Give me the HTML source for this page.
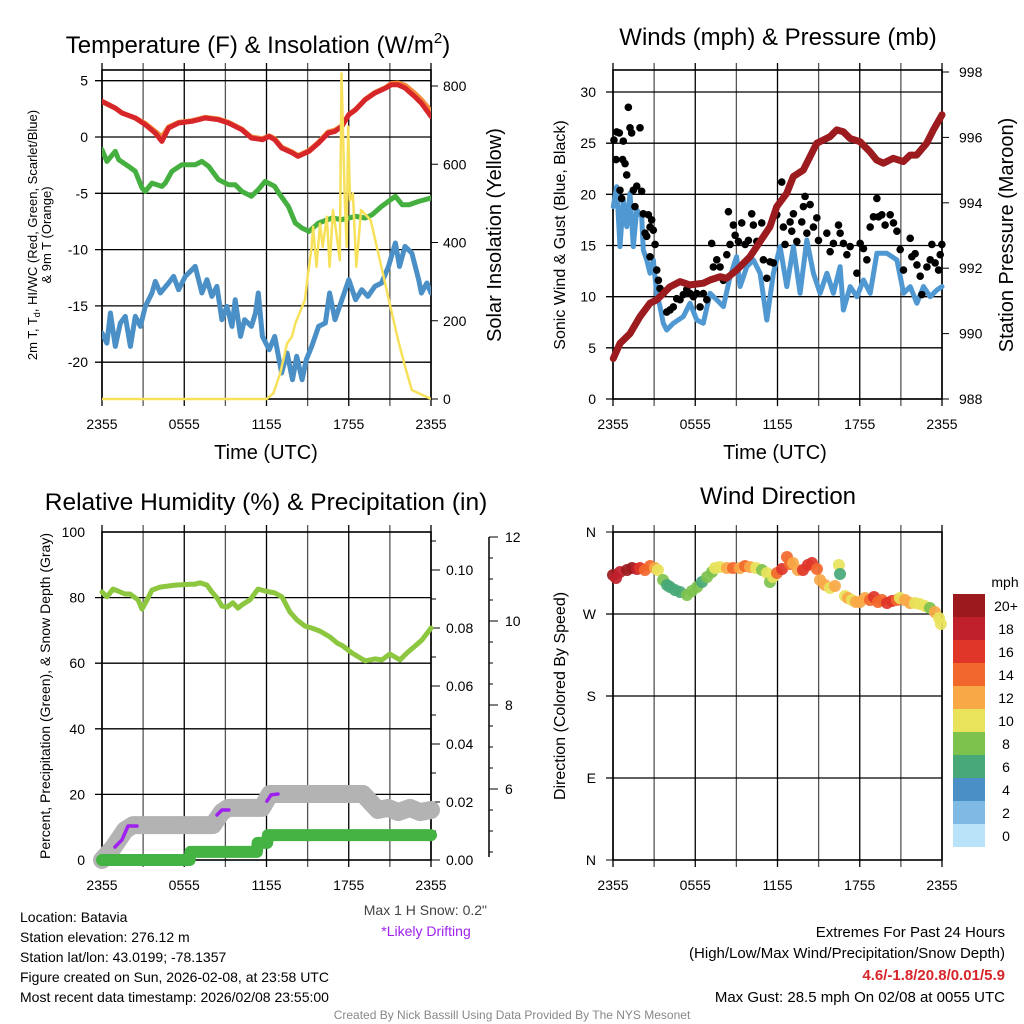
<!DOCTYPE html>
<html><head><meta charset="utf-8"><style>
html,body{margin:0;padding:0;background:#fff;}
svg{display:block;font-family:"Liberation Sans",Arial,sans-serif;}
</style></head><body>
<svg id="c" width="1024" height="1024" viewBox="0 0 1024 1024" xmlns="http://www.w3.org/2000/svg"></svg>
<script>
// ===== Panel 1 data =====
const tHours=[0,0.97,1.46,2.43,3.16,3.89,4.37,4.86,5.59,6.56,7.05,7.53,8.5,9.23,10.2,10.9,11.7,12.2,12.6,13.1,13.9,14.3,15.1,15.8,16.5,17,17.5,18,18.5,19.2,19.9,20.7,21.1,21.6,22.1,22.8,23.3,24];
const tempF=[3.16,2.57,2.13,1.69,1.09,0.35,-0.39,0.8,1.24,1.39,1.54,1.69,1.54,1.24,0.65,-0.09,-0.24,0.05,-0.24,-0.98,-1.42,-1.72,-1.28,-0.53,0.35,0.5,0.94,1.98,2.42,3.31,3.9,4.35,4.64,4.64,4.35,3.6,3.0,1.83];
const temp9F=[3.16,2.57,2.13,1.69,1.2,0.5,0.0,0.9,1.3,1.45,1.6,1.75,1.6,1.3,0.7,0.0,-0.15,0.1,-0.15,-0.9,-1.35,-1.65,-1.2,-0.45,0.45,0.6,1.0,2.0,2.45,3.35,3.95,4.4,4.75,4.8,4.6,3.9,3.3,2.3];
const tdHours=[0,0.36,0.97,1.22,1.94,2.43,2.92,3.16,3.65,4.37,4.62,5.1,5.83,6.8,7.29,7.78,8.5,9.23,9.72,10.2,10.9,11.4,11.9,12.6,12.9,13.6,14.1,14.6,15.1,15.8,16.8,17.5,18.5,19.2,19.7,20.4,21.4,21.9,22.4,23.1,24];
const dewF=[-1.13,-2.17,-1.28,-2.02,-2.61,-3.05,-4.53,-4.83,-4.09,-4.39,-4.09,-3.05,-2.46,-2.46,-2.17,-2.61,-3.79,-4.24,-4.24,-4.83,-5.27,-4.68,-3.94,-4.39,-4.97,-6.16,-7.64,-8.09,-8.38,-7.64,-7.19,-7.34,-7.05,-7.19,-6.9,-6.16,-5.27,-6.01,-6.01,-5.72,-5.42];
const wcHours=[0,0.36,0.61,0.97,1.34,1.7,2.07,2.43,2.8,3.16,3.65,3.89,4.25,4.86,5.22,5.59,6.08,6.56,6.8,7.05,7.29,7.66,8.02,8.38,8.75,9.11,9.48,9.72,10.1,10.4,10.9,11.2,11.4,11.7,12.2,12.6,13.1,13.5,13.9,14.2,14.6,14.9,15.3,15.8,16.3,16.6,17,17.5,18,18.5,18.95,19.4,19.9,20.4,20.9,21.4,21.7,22.1,22.6,23.1,23.3,23.7,24];
const windChillF=[-17.41,-18.3,-15.63,-18.6,-16.52,-15.93,-18.6,-15.93,-16.82,-15.04,-13.85,-12.82,-13.85,-12.97,-12.38,-13.56,-12.38,-11.79,-11.49,-12.67,-13.85,-12.67,-14.16,-13.27,-16.23,-15.04,-16.82,-14.45,-17.71,-16.23,-16.82,-15.63,-13.85,-17.71,-18.89,-17.71,-20.96,-19.18,-21.55,-19.48,-21.55,-19.78,-18.6,-16.82,-16.52,-13.85,-16.23,-14.45,-12.67,-14.45,-13.56,-14.16,-13.27,-12.97,-11.49,-9.41,-11.49,-9.72,-10.3,-12.67,-13.85,-12.97,-13.85];
const solHours=[0,12.0,12.5,13.0,13.5,13.85,14.1,14.4,14.8,15.0,15.3,15.4,15.65,15.9,16.1,16.4,16.6,16.85,17.1,17.35,17.47,17.7,17.85,17.95,18.1,18.3,18.55,18.9,19.6,20.1,20.6,21.1,21.6,22.1,22.6,24];
const solarW=[0,0,14.5,65.6,142,159,193,219,253,312,389,440,338,448,389,466,338,483,423,355,832,525,389,696,508,525,338,483,457,381,304,227,151,83,23,0];
// ===== Panel 2 data =====
const pHours=[0.02,0.51,1.24,1.97,2.7,3.19,4.16,4.89,5.62,6.59,7.08,7.81,8.29,9.02,9.99,10.72,11.45,11.94,12.67,13.15,13.88,14.37,14.86,15.34,15.83,16.32,16.8,17.29,18.02,18.75,19.23,19.72,20.45,21.18,21.67,22.15,22.88,23.37,24];
const pressMb=[989.24,989.7,990.0,990.52,990.93,991.03,991.43,991.59,991.49,991.54,991.64,991.74,991.69,991.94,992.35,992.81,993.27,993.88,994.29,994.8,995.0,995.41,995.82,995.92,996.02,996.23,996.17,995.97,995.87,995.56,995.31,995.21,995.36,995.26,995.46,995.46,995.82,996.23,996.69];
const wHours=[0.02,0.27,0.51,0.75,1.0,1.24,1.48,1.73,2.09,2.21,2.46,2.7,2.94,3.19,3.43,3.67,3.92,4.4,5.13,5.62,6.11,6.59,7.08,7.57,8.05,8.54,9.02,9.27,9.76,10.24,10.73,11.22,11.7,12.19,12.68,13.16,13.65,14.14,14.62,15.11,15.6,16.08,16.57,16.81,17.3,17.79,18.27,18.76,19.25,19.98,20.71,21.2,21.68,22.17,22.65,23.14,23.63,24];
const windMph=[18.8,20.75,14.89,19.45,16.84,20.1,14.89,18.48,17.82,14.57,13.59,12.29,13.59,10.33,9.03,7.4,6.74,7.4,8.05,9.36,7.72,7.4,10.33,9.68,9.03,11.96,13.91,10.98,12.93,13.59,12.29,7.72,12.29,14.89,10.98,14.89,10.33,15.54,12.29,10.33,12.29,10.33,12.93,8.7,10.98,10.0,11.63,10.33,14.24,14.24,13.59,10.33,10.98,9.36,10.98,10.0,10.65,10.98];
const gustHours=[0.07,0.27,0.46,0.22,0.75,0.88,1.0,1.12,1.24,1.36,0.7,0.51,0.63,1.48,1.73,1.97,2.09,1.6,2.21,2.34,2.46,2.58,2.7,2.82,2.7,2.94,3.07,3.19,3.31,3.43,3.67,3.92,4.16,4.4,4.65,4.89,5.13,5.38,5.62,5.86,6.11,6.35,6.59,6.84,7.2,7.32,7.57,7.81,8.05,8.3,8.42,8.54,8.78,8.91,9.15,9.39,9.64,9.88,10.12,10.24,10.49,10.85,10.97,11.22,11.46,11.7,11.95,12.31,12.43,12.55,12.92,13.04,13.16,13.41,13.77,13.89,14.01,14.38,14.14,14.62,14.87,14.99,15.6,15.84,16.08,16.45,16.57,16.81,17.06,17.3,17.79,18.03,18.27,18.52,18.76,19.0,19.25,19.37,19.61,19.85,20.22,20.46,20.71,20.95,21.19,21.68,21.8,22.04,22.17,22.41,22.53,22.9,23.14,23.26,23.5,23.75,23.99,23.87];
const gustMph=[25.3,26.1,26.0,23.4,25.2,23.0,21.9,28.5,26.5,26.0,23.4,20.4,19.6,20.4,20.8,26.5,20.3,18.8,18.1,16.2,15.9,18.0,16.8,17.5,13.9,16.5,15.1,12.6,11.6,10.8,10.3,8.5,8.7,9.0,9.8,9.7,10.2,10.7,10.3,10.0,10.3,9.0,10.3,9.7,15.2,12.9,13.6,12.9,11.6,14.1,18.3,15.1,17.0,16.0,15.4,17.2,15.1,15.5,18.1,17.0,15.4,17.2,13.6,11.8,13.4,13.3,18.0,21.2,16.8,15.1,17.3,16.4,18.1,15.4,17.3,18.8,19.8,19.0,16.2,16.8,17.7,15.5,16.2,14.4,15.2,17.0,16.2,15.2,14.1,14.9,12.3,15.2,14.7,13.6,16.8,17.8,19.6,17.8,18.0,17.0,18.0,17.2,16.4,14.6,12.6,15.7,13.9,14.2,13.1,12.0,10.2,12.9,13.6,15.1,13.3,12.6,15.1,14.1];
// ===== Panel 3 data =====
const rhHours=[0,0.36,0.8,1.17,1.68,2.04,2.63,2.92,3.28,3.65,4.23,5.33,6.42,6.78,7.15,7.66,8.02,8.39,8.75,9.12,9.55,9.92,10.28,10.79,11.38,11.89,12.62,13.13,13.71,14.22,14.81,15.32,15.9,16.63,17.14,17.58,18.24,19.19,19.91,20.42,21.0,21.73,22.32,22.83,23.34,24];
const rhPct=[81.7,80.2,82.6,82.0,81.1,81.1,79.3,76.5,79.3,82.3,83.2,83.8,84.1,84.1,84.5,83.8,81.7,79.9,77.4,77.1,78.4,76.8,78.0,79.3,82.6,82.0,81.4,80.2,75.6,73.2,71.3,70.7,69.8,68.0,66.2,65.2,63.1,60.7,61.3,61.0,62.8,61.0,63.4,65.2,67.1,70.7];
const precipHours=[0,6.4,6.45,11.3,11.35,12.05,12.1,24];
const precipIn=[0,0,0.0028,0.0028,0.0059,0.0059,0.0086,0.0086];
const snowHours=[0,0.8,1.68,2.26,8.1,8.75,9.2,11.67,12.25,19.04,20.13,20.86,21.6,22.47,23.2,24];
const snowIn=[4.31,4.6,5.02,5.14,5.14,5.45,5.55,5.55,5.88,5.88,5.5,5.55,5.45,5.55,5.45,5.5];
const drift1Hours=[0.95,1.46,1.9,2.55], drift1In=[4.62,4.79,5.12,5.12];
const drift2Hours=[8.39,8.75,9.26], drift2In=[5.38,5.5,5.5];
const drift3Hours=[12.03,12.33,12.84], drift3In=[5.71,5.86,5.88];
// ===== Panel 4 data =====
const dirHours=[0,0.22,0.51,1.02,1.39,1.75,1.97,2.33,2.7,3.06,3.28,3.65,3.94,4.16,4.52,4.89,5.4,5.76,6.13,6.49,6.86,7.22,7.44,7.8,8.31,8.75,9.26,9.63,9.99,10.43,10.87,11.23,11.45,11.67,11.96,12.33,12.69,12.91,13.13,13.49,13.86,14.22,14.51,14.88,15.1,15.46,15.83,16.19,16.48,16.56,16.92,17.14,17.43,17.72,18.02,18.38,18.75,19.04,19.33,19.62,19.99,20.35,20.71,20.93,21.3,21.66,22.03,22.39,22.76,23.12,23.48,23.78,23.92];
const dirDeg=[312.8,309.5,316.1,318.3,320.5,319.4,320.5,318.3,322.7,320.5,318.3,307.3,301.8,299.6,296.4,294.2,290.9,295.3,299.6,305.1,310.6,316.1,320.5,321.6,320.5,320.5,320.5,322.7,321.6,320.5,318.3,315.0,305.1,310.6,315.0,319.4,332.6,324.9,326.0,318.3,318.3,323.8,326.0,319.4,307.3,301.8,298.5,300.7,323.8,313.9,289.8,287.6,285.4,283.2,283.2,287.6,285.4,288.7,283.2,285.4,282.1,284.3,285.4,287.6,285.4,282.1,282.1,281.0,278.8,276.6,272.2,265.6,259.0];
const dirSpeed=[20,19,18,21,20,18,17,15,14,12,11,8,7,6,6,7,8,8,8,7,8,9,10,11,13,14,12,15,12,11,9,10,8,10,15,16,15,14,12,13,17,16,17,14,12,12,10,12,10,7,10,12,11,13,13,12,15,16,14,15,16,17,15,11,13,12,10,11,10,9,12,10,10];
const cbLabels=["20+","18","16","14","12","10","8","6","4","2","0"];
const cbColors=["#9c1a1e","#c0202b","#e03529","#f2672b","#f9a846","#e8e35b","#7dc24d","#48a877","#4a8fc6","#7fbae5","#b9e3f8"];
const xTickLabels=["2355","0555","1155","1755","2355"];

const NS="http://www.w3.org/2000/svg";
const svg=document.getElementById("c");
function el(tag,attrs,parent){const e=document.createElementNS(NS,tag);for(const k in attrs)e.setAttribute(k,attrs[k]);(parent||svg).appendChild(e);return e;}
function txt(s,x,y,size,anchor,extra,parent){const t=el("text",Object.assign({x:x,y:y,"font-size":size,"text-anchor":anchor||"middle",fill:"#000"},extra||{}),parent);t.textContent=s;return t;}
function lin(d0,d1,r0,r1){return v=>r0+(v-d0)/(d1-d0)*(r1-r0);}
function pathOf(xs,ys,fx,fy){return xs.map((h,i)=>(i?"L":"M")+fx(h).toFixed(1)+","+fy(ys[i]).toFixed(1)).join("");}

function frame(g,L,T,R,B,fx,hLines){
  for(let h=0;h<=24;h+=3){const x=fx(h);
    const ln=el("line",{x1:x,y1:T-7,x2:x,y2:B+7,stroke:(h%6==0)?"#000":"#555","stroke-width":1.3},g);
    
    }
  hLines.forEach(y=>{const ln=el("line",{x1:L-7,y1:y,x2:R,y2:y,stroke:"#000","stroke-width":1.3},g);
    
    });
  el("rect",{x:L,y:T,width:R-L,height:B-T,fill:"none",stroke:"#000","stroke-width":1.6},g);
  xTickLabels.forEach((s,i)=>{const t=txt(s,fx(i*6),B+30,14,"middle",{},g);
    
    });
}

// ===== Panel 1 =====
(function(){
  const g=el("g",{});
  const L=102,R=431,T=70,B=399;
  const fx=lin(0,24,L,R), fy=lin(0,-5,137,193.3), fs=lin(0,800,399,86);
  frame(g,L,T,R,B,fx,[5,0,-5,-10,-15,-20].map(fy));
  [5,0,-5,-10,-15,-20].forEach(v=>{const t=txt(String(v),L-14,fy(v)+5,14,"end",{},g);});
  [0,200,400,600,800].forEach(v=>{el("line",{x1:R,y1:fs(v),x2:R+7,y2:fs(v),stroke:"#000"},g);const t=txt(String(v),R+12,fs(v)+5,14,"start",{},g);});
  const cl=el("clipPath",{id:"c1"},g);el("rect",{x:L,y:T,width:R-L,height:B-T+3},cl);
  const pg=el("g",{"clip-path":"url(#c1)"},g);
  el("path",{d:pathOf(wcHours,windChillF,fx,fy),fill:"none",stroke:"#4a8fc6","stroke-width":5,"stroke-linejoin":"round","stroke-linecap":"round",},pg);
  el("path",{d:pathOf(tdHours,dewF,fx,fy),fill:"none",stroke:"#45b03f","stroke-width":5,"stroke-linejoin":"round","stroke-linecap":"round",},pg);
  el("path",{d:pathOf(tHours,temp9F,fx,fy),fill:"none",stroke:"#f5893a","stroke-width":5,"stroke-linejoin":"round","stroke-linecap":"round",},pg);
  el("path",{d:pathOf(tHours,tempF,fx,fy),fill:"none",stroke:"#d7262a","stroke-width":5,"stroke-linejoin":"round","stroke-linecap":"round",},pg);
  el("path",{d:pathOf(solHours,solarW,fx,fs),fill:"none",stroke:"#f7e15a","stroke-width":2.5,"stroke-linejoin":"round",},pg);
  const t1=txt("Temperature (F) & Insolation (W/m",258,53,24,"middle",{},g);
  const sup=el("tspan",{dy:-10,"font-size":15},t1);sup.textContent="2";
  const cl2=el("tspan",{dy:10},t1);cl2.textContent=")";
  
  const xl=txt("Time (UTC)",266,459,20,"middle",{},g);
  const yl=el("text",{transform:"translate(37,235) rotate(-90)","font-size":13,"text-anchor":"middle"},g);
  
  const a=el("tspan",{x:0,dy:0},yl);a.textContent="2m T, T";const s=el("tspan",{"font-size":9,dy:3},yl);s.textContent="d";const b=el("tspan",{dy:-3},yl);b.textContent=", HI/WC (Red, Green, Scarlet/Blue)";
  const c=el("tspan",{x:0,dy:14},yl);c.textContent="& 9m T (Orange)";
  const yr=txt("Solar Insolation (Yellow)",0,0,20,"middle",{transform:"translate(501,235) rotate(-90)"},g);
})();

// ===== Panel 2 =====
(function(){
  const g=el("g",{});
  const L=613,R=942,T=70,B=399;
  const fx=lin(0,24,L,R), fy=lin(0,30,399,92), fp=lin(988,998,399,72);
  frame(g,L,T,R,B,fx,[0,5,10,15,20,25,30].map(fy));
  [0,5,10,15,20,25,30].forEach(v=>{const t=txt(String(v),L-17,fy(v)+5,14,"end",{},g);});
  [988,990,992,994,996,998].forEach(v=>{el("line",{x1:R,y1:fp(v),x2:R+7,y2:fp(v),stroke:"#000"},g);const t=txt(String(v),R+17,fp(v)+5,14,"start",{},g);});
  el("path",{d:pathOf(wHours,windMph,fx,fy),fill:"none",stroke:"#5098d2","stroke-width":5,"stroke-linejoin":"round","stroke-linecap":"round",},g);
  gustHours.forEach((h,i)=>{const d=el("circle",{cx:fx(h),cy:fy(gustMph[i]),r:3.8,fill:"#000"},g);
    
    });
  el("path",{d:pathOf(pHours,pressMb,fx,fp),fill:"none",stroke:"#9b1b1f","stroke-width":7,"stroke-linejoin":"round","stroke-linecap":"round",},g);
  const t=txt("Winds (mph) & Pressure (mb)",778,45,24,"middle",{},g);
  const xl=txt("Time (UTC)",775,459,20,"middle",{},g);
  const yl=txt("Sonic Wind & Gust (Blue, Black)",0,0,16,"middle",{transform:"translate(565,235) rotate(-90)"},g);
  const yr=txt("Station Pressure (Maroon)",0,0,20,"middle",{transform:"translate(1013,235) rotate(-90)"},g);
})();

// ===== Panel 3 =====
(function(){
  const g=el("g",{});
  const L=102,R=431,T=532,B=860;
  const fx=lin(0,24,L,R), fy=lin(0,100,860,532), fpr=lin(0,0.02,860,802), fsn=lin(6,8,789,705);
  frame(g,L,T,R,B,fx,[20,40,60,80].map(fy));
  [0,20,40,60,80,100].forEach(v=>{const t=txt(String(v),L-17,fy(v)+5,14,"end",{},g);});
  for(let k=0;k<=11;k++){const v=k*0.01;el("line",{x1:R,y1:fpr(v),x2:R+(k%2?5:9),y2:fpr(v),stroke:"#000"},g);}
  [0,0.02,0.04,0.06,0.08,0.10].forEach(v=>{const t=txt(v.toFixed(2),R+15,fpr(v)+5,14,"start",{},g);});
  el("line",{x1:489,y1:fsn(12),x2:489,y2:857,stroke:"#000","stroke-width":1.5},g);
  for(let v=4.5;v<=12;v+=0.5){el("line",{x1:489,y1:fsn(v),x2:489+(v%2==0?9:4),y2:fsn(v),stroke:"#000"},g);}
  [6,8,10,12].forEach(v=>{const t=txt(String(v),505,fsn(v)+5,14,"start",{},g);});
  el("path",{d:pathOf(rhHours,rhPct,fx,fy),fill:"none",stroke:"#8dc63f","stroke-width":5,"stroke-linejoin":"round","stroke-linecap":"round",},g);
  el("path",{d:pathOf(snowHours,snowIn,fx,fsn),fill:"none",stroke:"#b3b3b3","stroke-width":18,"stroke-linejoin":"round","stroke-linecap":"round",},g);
  el("path",{d:pathOf(precipHours,precipIn,fx,fpr),fill:"none",stroke:"#44b344","stroke-width":12,"stroke-linejoin":"round","stroke-linecap":"round",},g);
  [[drift1Hours,drift1In],[drift2Hours,drift2In],[drift3Hours,drift3In]].forEach(p=>{const d=el("path",{d:pathOf(p[0],p[1],fx,fsn),fill:"none",stroke:"#a020f0","stroke-width":3.5,"stroke-linejoin":"round","stroke-linecap":"round"},g);
    
    });
  const t=txt("Relative Humidity (%) & Precipitation (in)",266,510,24.5,"middle",{},g);
  const yl=txt("Percent, Precipitation (Green), & Snow Depth (Gray)",0,0,14,"middle",{transform:"translate(50,696) rotate(-90)"},g);
})();

// ===== Panel 4 =====
(function(){
  const g=el("g",{});
  const L=613,R=942,T=532,B=860;
  const fx=lin(0,24,L,R), fy=lin(0,360,860,532);
  frame(g,L,T,R,B,fx,[90,180,270].map(fy));
  [["N",0],["E",90],["S",180],["W",270],["N",360]].forEach(p=>{el("line",{x1:L-7,y1:fy(p[1]),x2:L,y2:fy(p[1]),stroke:"#000"},g);const t=txt(p[0],L-17,fy(p[1])+5,14,"end",{},g);});
  function spdColor(s){let i=Math.floor(s/2);if(i>10)i=10;return cbColors[10-i];}
  dirHours.forEach((h,i)=>{const d=el("circle",{cx:fx(h),cy:fy(dirDeg[i]),r:6,fill:spdColor(dirSpeed[i]),"fill-opacity":0.92},g);
    
    });
  const t=txt("Wind Direction",778,504,24,"middle",{},g);
  const yl=txt("Direction (Colored By Speed)",0,0,16,"middle",{transform:"translate(565,696) rotate(-90)"},g);
  const cb=el("g",{});
  const u=txt("mph",1005,587,14,"middle",{},cb);
  cbLabels.forEach((s,i)=>{const r=el("rect",{x:953,y:594+i*23,width:32,height:23,fill:cbColors[i]},cb);
    
    
    const t2=txt(s,1006,611+i*23,14,"middle",{},cb);
    
    });
})();

// ===== Footer text =====
const info=["Location: Batavia","Station elevation: 276.12 m","Station lat/lon: 43.0199; -78.1357","Figure created on Sun, 2026-02-08, at 23:58 UTC","Most recent data timestamp: 2026/02/08 23:55:00"];
info.forEach((s,i)=>{const t=txt(s,20,922+i*20,14,"start");});
let t;
t=txt('Max 1 H Snow: 0.2"',487,915,14,"end",{fill:"#444"});
t=txt("*Likely Drifting",426,936,14,"middle",{fill:"#a020f0"});
t=txt("Extremes For Past 24 Hours",1005,937,15,"end");
t=txt("(High/Low/Max Wind/Precipitation/Snow Depth)",1005,958,15,"end");
t=txt("4.6/-1.8/20.8/0.01/5.9",1005,980,15,"end",{fill:"#d7262a","font-weight":"bold"});
t=txt("Max Gust: 28.5 mph On 02/08 at 0055 UTC",1005,1002,15,"end");
t=txt("Created By Nick Bassill Using Data Provided By The NYS Mesonet",512,1019,12,"middle",{fill:"#888"});
</script>
</body></html>
